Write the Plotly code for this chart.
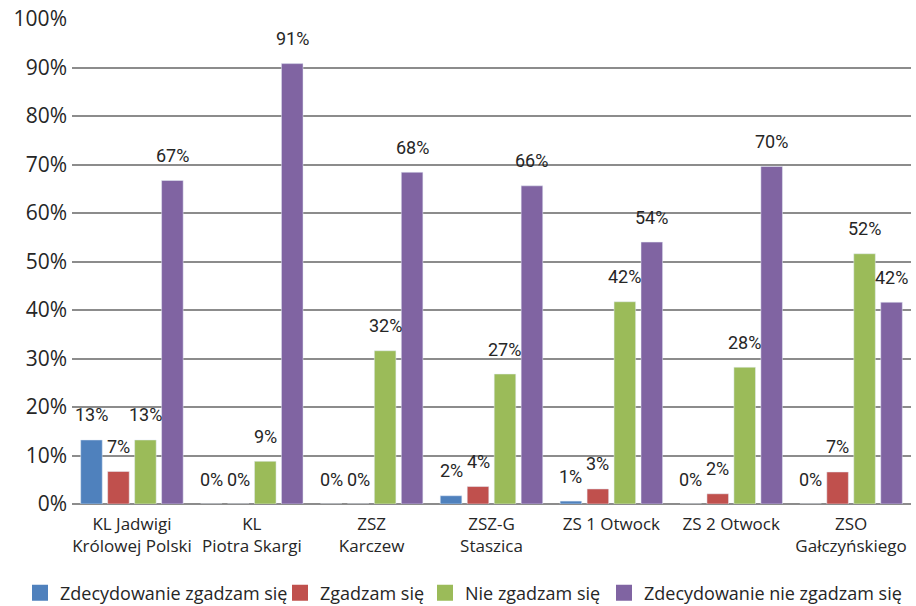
import plotly.graph_objects as go

categories = ["KL Jadwigi<br>Królowej Polski", "KL<br>Piotra Skargi", "ZSZ<br>Karczew",
              "ZSZ-G<br>Staszica", "ZS 1 Otwock", "ZS 2 Otwock", "ZSO<br>Gałczyńskiego"]
series_names = ["Zdecydowanie zgadzam się", "Zgadzam się", "Nie zgadzam się",
                "Zdecydowanie nie zgadzam się"]
zdecydowanie_zgadzam = [13.2, 0.0, 0.0, 1.7, 0.6, 0.0, 0.0]
zgadzam = [6.7, 0.0, 0.0, 3.6, 3.1, 2.1, 6.6]
nie_zgadzam = [13.2, 8.8, 31.6, 26.8, 41.7, 28.2, 51.6]
zdecydowanie_nie_zgadzam = [66.7, 90.8, 68.4, 65.6, 54.0, 69.6, 41.6]
colors = ["#4F81BD", "#C0504D", "#9BBB59", "#8064A2"]
y_ticks = list(range(0, 101, 10))
y_tick_labels = [f"{t}%" for t in y_ticks]

all_series = [zdecydowanie_zgadzam, zgadzam, nie_zgadzam, zdecydowanie_nie_zgadzam]

W, H = 916, 606
margin = dict(l=72, r=5, t=19, b=102, autoexpand=False)
bargap = 0.1
bargroupgap = 0.2
# legend swatch centres (pixels) of each entry, one legend per series
legend_swatch_px = [35, 295, 440, 619]
legend_ids = ["legend", "legend2", "legend3", "legend4"]

fig = go.Figure()
for name, vals, col, lid in zip(series_names, all_series, colors, legend_ids):
    fig.add_trace(go.Bar(x=categories, y=vals, name=name, marker_color=col,
                         showlegend=False, legendgroup=name))
    fig.add_trace(go.Scatter(x=[None], y=[None], mode="markers", name=name,
                             legendgroup=name, legend=lid,
                             marker=dict(symbol="square", size=16, color=col)))

plot_w = W - margin["l"] - margin["r"]
cat_px = plot_w / len(categories)
slot_px = cat_px * (1 - bargap) / len(all_series)
label_font = dict(family="Roboto, sans-serif", size=18, color="#262626")
for i, vals in enumerate(all_series):
    for cat, v in zip(categories, vals):
        fig.add_annotation(x=cat, y=v, text=f"{round(v)}%", showarrow=False,
                           xshift=(i - (len(all_series) - 1) / 2) * slot_px,
                           yshift=25, yanchor="middle", font=label_font)

legend_font = dict(family="Open Sans, sans-serif", size=18, color="#262626")
legend_layouts = {}
for lid, px in zip(legend_ids, legend_swatch_px):
    legend_layouts[lid] = dict(orientation="h", xref="container", yref="container",
                               x=(px - 15) / W, xanchor="left",
                               y=(H - 593) / H, yanchor="middle",
                               font=legend_font, itemwidth=30,
                               bgcolor="rgba(0,0,0,0)")

fig.update_layout(
    width=W, height=H, margin=margin,
    paper_bgcolor="white", plot_bgcolor="white",
    barmode="group", bargap=bargap, bargroupgap=bargroupgap,
    xaxis=dict(tickfont=dict(family="Open Sans, sans-serif", size=17, color="#262626"),
               showline=False, ticks="", ticklabelstandoff=8),
    yaxis=dict(range=[0, 100], tickvals=y_ticks, ticktext=y_tick_labels,
               tickfont=dict(family="Open Sans, sans-serif", size=21, color="#262626"),
               showgrid=True, gridcolor="#8c8c8c", gridwidth=1.5,
               zeroline=True, zerolinecolor="#8c8c8c", zerolinewidth=1.5,
               showline=False, ticks="", ticklabelstandoff=4),
    **legend_layouts,
)
fig.write_html("out.html", config={"displayModeBar": False},
               post_script="document.body.style.margin='0';document.body.style.padding='0';")
